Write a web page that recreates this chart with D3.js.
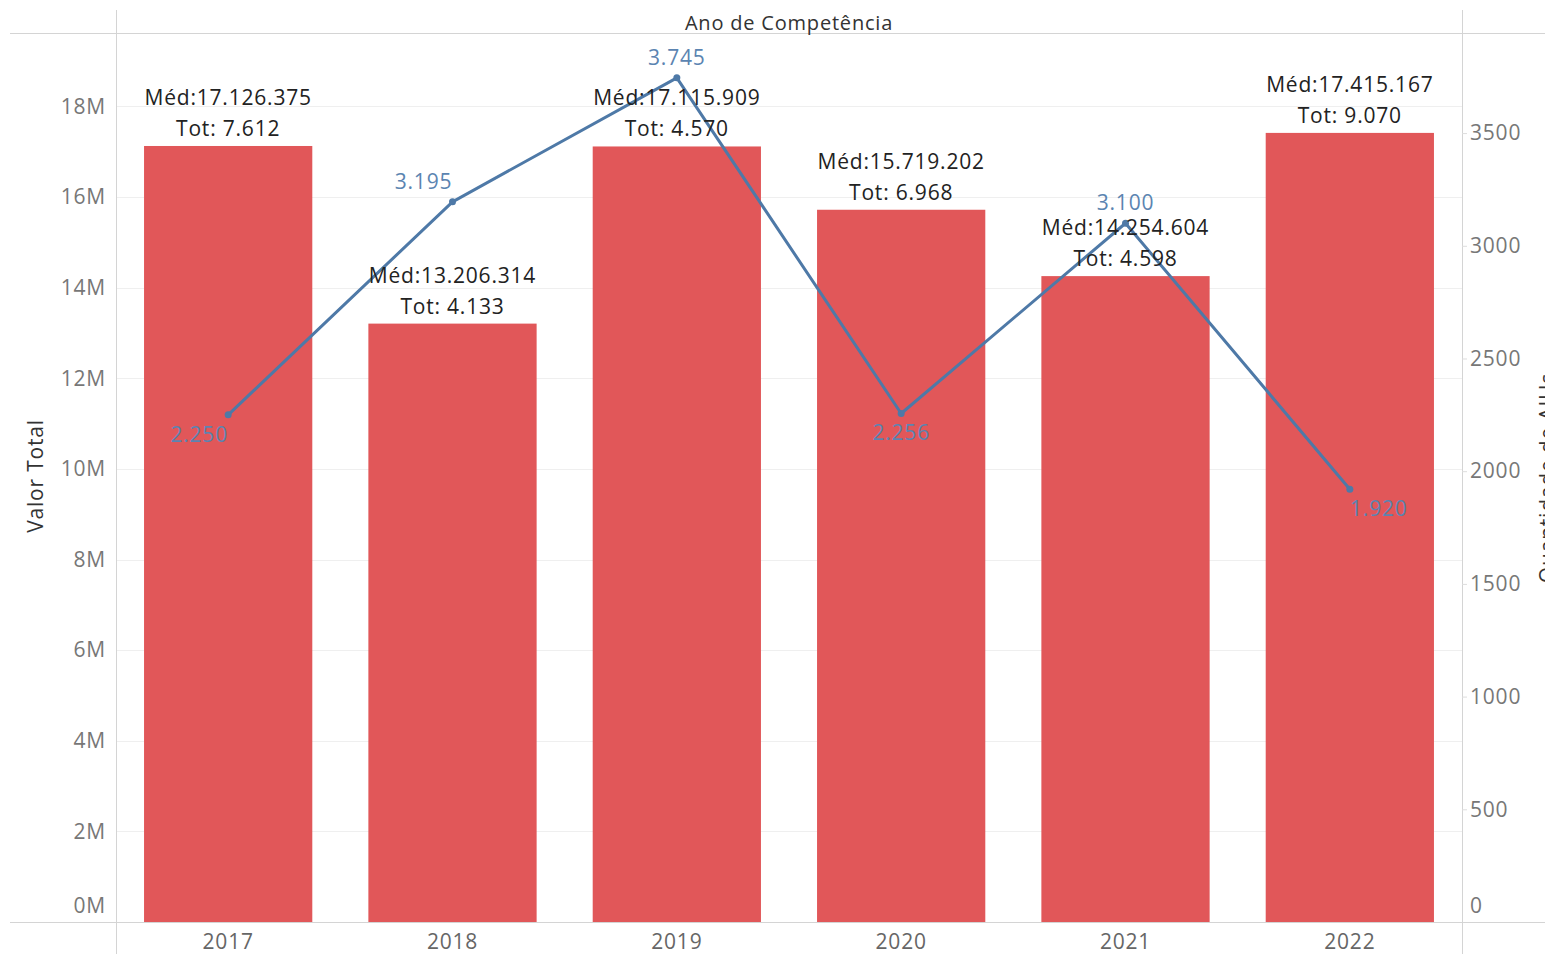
<!DOCTYPE html>
<html><head><meta charset="utf-8">
<script src="https://cdn.jsdelivr.net/npm/d3@7/dist/d3.min.js"></script>
<style>
html,body{margin:0;padding:0;background:#fff;}
svg{display:block;font-family:"Open Sans","Noto Sans",sans-serif;}
text{letter-spacing:0.8px;}
</style></head>
<body>
<svg id="c" width="1545" height="954"></svg>
<script>
const years = ["2017","2018","2019","2020","2021","2022"];
const medValues = [17126375, 13206314, 17115909, 15719202, 14254604, 17415167];
const totValues = [7612, 4133, 4570, 6968, 4598, 9070];
const aihValues = [2250, 3195, 3745, 2256, 3100, 1920];
const leftTicks = [0,2e6,4e6,6e6,8e6,10e6,12e6,14e6,16e6,18e6];
const rightTicks = [0,500,1000,1500,2000,2500,3000,3500];
// label placement for line labels: [side, horizontal shift in px]
const lineLabelPlace = [["below",-29],["above",-29],["above",0],["below",0],["above",0],["below",29]];

const loc = d3.formatLocale({decimal:",",thousands:".",grouping:[3],currency:["",""]});
const fmt = loc.format(",d");

const svg = d3.select("#c");
const L = 116, R = 1462, T = 33, B = 922;
const FS = 21;

const x = d3.scaleBand().domain(years).range([L,R]).paddingInner(0.25).paddingOuter(0.125);
const y = d3.scaleLinear().domain([0,19.62e6]).range([B,T]);
const y2 = d3.scaleLinear().domain([0,3944]).range([B,T]);

// gridlines
svg.append("g").selectAll("line").data(leftTicks.slice(1)).join("line")
  .attr("x1",L).attr("x2",R).attr("y1",d=>Math.round(y(d))+0.5).attr("y2",d=>Math.round(y(d))+0.5)
  .attr("stroke","#efefef").attr("stroke-width",1);

// frame lines
const frame = svg.append("g").attr("stroke","#d4d4d4").attr("stroke-width",1);
frame.append("line").attr("x1",10).attr("x2",1545).attr("y1",T+0.5).attr("y2",T+0.5);
frame.append("line").attr("x1",10).attr("x2",1545).attr("y1",B+0.5).attr("y2",B+0.5);
frame.append("line").attr("x1",L+0.5).attr("x2",L+0.5).attr("y1",10).attr("y2",954);
frame.append("line").attr("x1",R+0.5).attr("x2",R+0.5).attr("y1",10).attr("y2",954);

// title
svg.append("text").attr("x",(L+R)/2).attr("y",22).attr("text-anchor","middle")
  .attr("dominant-baseline","central").attr("font-size",20).attr("fill","#333").attr("font-weight",500)
  .text("Ano de Competência");

// left axis
const ax = d3.axisLeft(y).tickValues(leftTicks).tickSize(0).tickPadding(10)
  .tickFormat(d=>(d/1e6)+"M");
const gl = svg.append("g").attr("transform",`translate(${L},0)`).call(ax);
gl.select(".domain").remove();
gl.selectAll("text").attr("font-size",FS).attr("fill","#777").attr("font-family","Open Sans, sans-serif")
  .attr("dy",d=>d===0?"-0.45em":"0.32em");

// right axis
const ax2 = d3.axisRight(y2).tickValues(rightTicks).tickSize(5).tickPadding(3).tickFormat(d3.format("d"));
const gr = svg.append("g").attr("transform",`translate(${R},0)`).call(ax2);
gr.select(".domain").remove();
gr.selectAll("line").attr("stroke",d=>d===0?"none":"#ddd");
gr.selectAll("text").attr("font-size",FS).attr("fill","#777").attr("font-family","Open Sans, sans-serif")
  .attr("dy",d=>d===0?"-0.45em":"0.32em");

// bottom axis
const axb = d3.axisBottom(x).tickSize(0).tickPadding(12);
const gb = svg.append("g").attr("transform",`translate(0,${B})`).call(axb);
gb.select(".domain").remove();
gb.selectAll("text").attr("font-size",FS).attr("fill","#666").attr("font-family","Open Sans, sans-serif");

// axis titles
svg.append("text").attr("transform",`translate(35,476) rotate(-90)`).attr("text-anchor","middle")
  .attr("dominant-baseline","central").attr("font-size",FS).attr("fill","#333").text("Valor Total");
svg.append("text").attr("transform",`translate(1547,478) rotate(-90)`).attr("text-anchor","middle")
  .attr("dominant-baseline","central").attr("font-size",FS).attr("fill","#333").text("Quantidade de AIHs");

// bars
const data = years.map((yr,i)=>({yr,med:medValues[i],tot:totValues[i],aih:aihValues[i],place:lineLabelPlace[i]}));
svg.append("g").selectAll("rect").data(data).join("rect")
  .attr("x",d=>x(d.yr)).attr("width",x.bandwidth())
  .attr("y",d=>y(d.med)).attr("height",d=>B-y(d.med))
  .attr("fill","#e15759");

// line
const line = d3.line().x(d=>x(d.yr)+x.bandwidth()/2).y(d=>y2(d.aih));
svg.append("path").datum(data).attr("d",line).attr("fill","none")
  .attr("stroke","#4e79a7").attr("stroke-width",3).attr("stroke-linejoin","round");
svg.append("g").selectAll("circle").data(data).join("circle")
  .attr("cx",d=>x(d.yr)+x.bandwidth()/2).attr("cy",d=>y2(d.aih)).attr("r",3.5).attr("fill","#4e79a7");

// bar labels
const bl = svg.append("g").attr("font-size",FS).attr("fill","#222").attr("text-anchor","middle");
bl.selectAll("text.med").data(data).join("text").attr("class","med")
  .attr("x",d=>x(d.yr)+x.bandwidth()/2).attr("y",d=>y(d.med)-49).attr("dominant-baseline","central")
  .text(d=>"Méd:"+fmt(d.med));
bl.selectAll("text.tot").data(data).join("text").attr("class","tot")
  .attr("x",d=>x(d.yr)+x.bandwidth()/2).attr("y",d=>y(d.med)-18).attr("dominant-baseline","central")
  .text(d=>"Tot: "+fmt(d.tot));

// line labels
svg.append("g").attr("font-size",FS).attr("fill","#5b84b1").attr("text-anchor","middle")
  .selectAll("text").data(data).join("text")
  .attr("x",d=>x(d.yr)+x.bandwidth()/2+d.place[1])
  .attr("y",d=>y2(d.aih)+(d.place[0]==="above"?-21:19))
  .attr("dominant-baseline","central")
  .text(d=>fmt(d.aih));
</script>
</body></html>
